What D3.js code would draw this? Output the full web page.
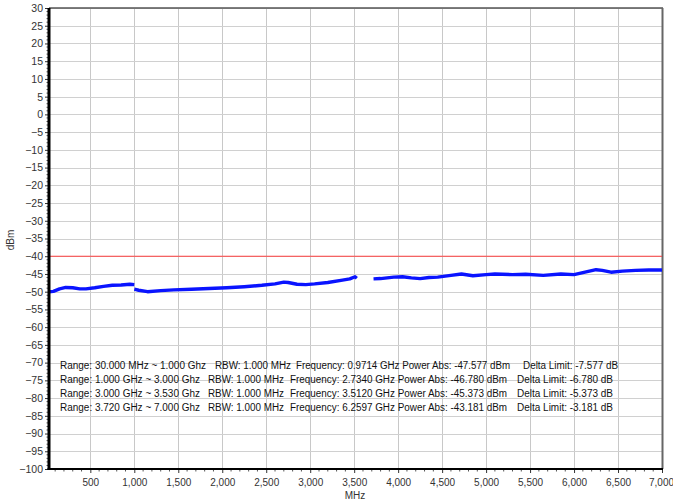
<!DOCTYPE html>
<html><head><meta charset="utf-8">
<script src="https://cdn.jsdelivr.net/npm/d3@7"></script>
<style>
html,body{margin:0;padding:0;background:#fff;}
svg{display:block;font-family:"Liberation Sans",Arial,sans-serif;}
</style></head>
<body>
<svg id="c" width="673" height="504"></svg>
<script>
const xTicks = [500,1000,1500,2000,2500,3000,3500,4000,4500,5000,5500,6000,6500,7000];
const yTicks = d3.range(-100, 31, 5);
const limitValue = -40;

const seg1Freq  = [30,80,150,220,300,380,450,550,650,750,850,950,1000];
const seg1Power = [-50.0,-49.9,-49.2,-48.8,-48.9,-49.2,-49.2,-48.9,-48.5,-48.2,-48.1,-47.9,-48.0];

const seg2Freq  = [1000,1050,1150,1300,1450,1650,1850,2050,2250,2450,2600,2700,2750,2850,2950,3050,3200,3350,3450,3510,3530];
const seg2Power = [-49.3,-49.6,-50.0,-49.7,-49.5,-49.3,-49.1,-48.9,-48.6,-48.2,-47.8,-47.3,-47.4,-47.9,-48.0,-47.8,-47.4,-46.8,-46.4,-45.8,-46.2];

const seg3Freq  = [3720,3800,3950,4050,4150,4250,4350,4450,4600,4720,4850,5000,5100,5300,5450,5650,5850,6000,6100,6250,6320,6420,6550,6700,6850,7000];
const seg3Power = [-46.4,-46.3,-45.9,-45.8,-46.1,-46.3,-46.0,-45.9,-45.4,-45.0,-45.5,-45.2,-45.0,-45.2,-45.1,-45.4,-45.0,-45.2,-44.6,-43.8,-44.0,-44.5,-44.2,-44.0,-43.9,-43.9];

const rangeLabels = ["Range: 30.000 MHz ~ 1.000 Ghz","Range: 1.000 GHz ~ 3.000 Ghz","Range: 3.000 GHz ~ 3.530 Ghz","Range: 3.720 GHz ~ 7.000 Ghz"];
const rbwLabels = ["RBW: 1.000 MHz","RBW: 1.000 MHz","RBW: 1.000 MHz","RBW: 1.000 MHz"];
const freqLabels = ["Frequency: 0.9714 GHz Power Abs: -47.577 dBm","Frequency: 2.7340 GHz Power Abs: -46.780 dBm","Frequency: 3.5120 GHz Power Abs: -45.373 dBm","Frequency: 6.2597 GHz Power Abs: -43.181 dBm"];
const deltaLabels = ["Delta Limit: -7.577 dB","Delta Limit: -6.780 dB","Delta Limit: -5.373 dB","Delta Limit: -3.181 dB"];

const svg = d3.select("#c");
const L=49, R=662, T=8, B=469;
const x = d3.scaleLinear().domain([30,7000]).range([L,R]);
const y = d3.scaleLinear().domain([-100,30]).range([B,T]);

// grid
const g = svg.append("g");
g.selectAll(".vg").data(xTicks).join("line")
  .attr("x1",d=>Math.round(x(d))+0.5).attr("x2",d=>Math.round(x(d))+0.5)
  .attr("y1",T).attr("y2",B).attr("stroke","#c8c8c8").attr("stroke-width",1);
g.selectAll(".hg").data(yTicks).join("line")
  .attr("x1",L).attr("x2",R)
  .attr("y1",d=>Math.round(y(d))+0.5).attr("y2",d=>Math.round(y(d))+0.5)
  .attr("stroke","#d0d0d0").attr("stroke-width",1);

// border top/right
svg.append("line").attr("x1",L).attr("x2",R+1).attr("y1",T).attr("y2",T).attr("stroke","#555").attr("stroke-width",1.5);
svg.append("line").attr("x1",R+0.5).attr("x2",R+0.5).attr("y1",T).attr("y2",B).attr("stroke","#666").attr("stroke-width",2);

// limit line
svg.append("line").attr("x1",L).attr("x2",R).attr("y1",y(limitValue)).attr("y2",y(limitValue))
  .attr("stroke","#ff4040").attr("stroke-width",1.2);

// trace
const line = d3.line().x(d=>x(d[0])).y(d=>y(d[1]));
[[seg1Freq,seg1Power],[seg2Freq,seg2Power],[seg3Freq,seg3Power]].forEach(([f,p])=>{
  svg.append("path").datum(f.map((v,i)=>[v,p[i]])).attr("d",line)
    .attr("fill","none").attr("stroke","#0a14ff").attr("stroke-width",3.4).attr("stroke-linejoin","round");
});

// axes
const xAxis = d3.axisBottom(x).tickValues(xTicks).tickSize(4).tickPadding(6).tickFormat(d3.format(","));
const ax = svg.append("g").attr("transform",`translate(0,${B})`).call(xAxis);
ax.select(".domain").remove();
ax.selectAll("text").attr("font-size","10px").attr("fill","#333").attr("font-family","Liberation Sans, Arial, sans-serif");
ax.selectAll(".tick").filter(d=>d===7000).select("text").attr("dx","-1");
ax.selectAll("line").attr("stroke","#333");
const xMinor = d3.range(100,7000,100).filter(d=>d%500!==0);
svg.append("g").selectAll("line").data(xMinor).join("line")
  .attr("x1",d=>x(d)).attr("x2",d=>x(d)).attr("y1",B).attr("y2",B+2.5).attr("stroke","#555");

const yAxis = d3.axisLeft(y).tickValues(yTicks).tickSize(4).tickPadding(2);
const ay = svg.append("g").attr("transform",`translate(${L},0)`).call(yAxis);
ay.select(".domain").remove();
ay.selectAll("text").attr("font-size","10.5px").attr("fill","#333").attr("font-family","Liberation Sans, Arial, sans-serif");
ay.selectAll("line").attr("stroke","#333");
const yMinor = d3.range(-100,31,1).filter(d=>d%5!==0);
svg.append("g").selectAll("line").data(yMinor).join("line")
  .attr("x1",L-2.5).attr("x2",L).attr("y1",d=>y(d)).attr("y2",d=>y(d)).attr("stroke","#555");

svg.append("line").attr("x1",L).attr("x2",L).attr("y1",T).attr("y2",B+1).attr("stroke","#000").attr("stroke-width",3);
svg.append("line").attr("x1",L-1.5).attr("x2",R+1).attr("y1",B).attr("y2",B).attr("stroke","#000").attr("stroke-width",2);

// axis titles
svg.append("text").attr("transform","translate(14,240) rotate(-90)").attr("text-anchor","middle")
  .attr("font-size","10px").attr("fill","#333").text("dBm");
svg.append("text").attr("x",355).attr("y",499).attr("text-anchor","middle")
  .attr("font-size","10px").attr("fill","#333").text("MHz");

// info text
const rowY = [369,383,397,411];
const cols = [
  {arr:rangeLabels, xs:[60,60,60,60], w:[146,140,140,140]},
  {arr:rbwLabels, xs:[215,208,208,208], w:[76,76,76,76]},
  {arr:freqLabels, xs:[296,290,290,290], w:[214,217,217,217]},
  {arr:deltaLabels, xs:[523,517,517,517], w:[95,96,96,96]}
];
const info = svg.append("g").attr("font-size","10px").attr("fill","#111");
cols.forEach(c=>{
  c.arr.forEach((t,i)=>{
    info.append("text").attr("x",c.xs[i]).attr("y",rowY[i])
      .attr("textLength",c.w[i]).attr("lengthAdjust","spacingAndGlyphs").text(t);
  });
});
</script>
</body></html>
